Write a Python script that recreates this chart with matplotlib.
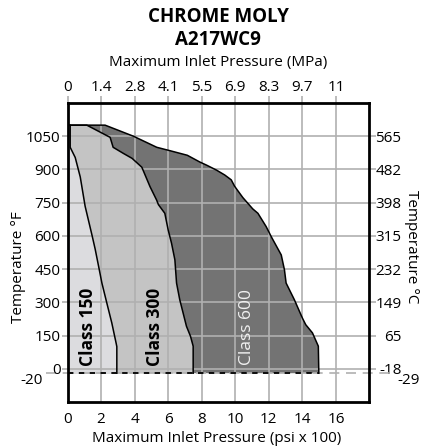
import matplotlib
matplotlib.use("Agg")
import matplotlib.pyplot as plt
import matplotlib.transforms as mtransforms

plt.rcParams['font.family'] = ['Open Sans', 'DejaVu Sans']

# boundaries (psi x 100, deg F)
c150_p = [0.16, 0.16, 0.46, 0.76, 1.05, 1.47, 1.65, 1.9, 2.05, 2.35, 2.64, 2.9, 2.94, 2.94]
c150_t = [1100, 1000, 954, 866, 734, 600, 540, 445, 387, 295, 207, 115, 100, -20]

c300_p = [1.15, 2.54, 2.72, 3.34, 3.85, 4.43, 4.92, 5.31, 5.42, 5.8, 6.0, 6.2, 6.4, 6.5,
          6.69, 6.89, 7.09, 7.33, 7.49, 7.49]
c300_t = [1100, 1045, 1000, 972, 950, 910, 822, 762, 741, 702, 627, 567, 492, 387,
          312, 252, 192, 147, 102, -20]

c600_p = [2.24, 3.93, 5.32, 6.14, 7.14, 7.9, 8.3, 8.88, 9.37, 9.76, 9.96, 10.45, 11.04,
          11.35, 11.84, 12.14, 12.74, 12.93, 13.03, 13.52, 14.0, 14.2, 14.6, 14.95, 14.98]
c600_t = [1100, 1050, 1000, 984, 964, 933, 919, 897, 875, 853, 824, 773, 722,
          702, 642, 597, 514, 447, 387, 312, 229, 199, 162, 102, -20]

psi_ticks = [0, 2, 4, 6, 8, 10, 12, 14, 16]
mpa_labels = ['0', '1.4', '2.8', '4.1', '5.5', '6.9', '8.3', '9.7', '11']
degf_ticks = [0, 150, 300, 450, 600, 750, 900, 1050]
degc_labels = ['-18', '65', '149', '232', '315', '398', '482', '565']

classes = ['Class 150', 'Class 300', 'Class 600']
label_p = [1.23, 5.2, 10.7]
label_t = 190

t_min = -20
t_top = 1100

fs = 11

fig = plt.figure(figsize=(4.22, 4.48), dpi=100)
ax = fig.add_axes([67.5 / 422, 1 - 402 / 448, 302 / 422, 299 / 448])
ax.set_xlim(0, 18)
ax.set_ylim(-150, 1200)

cols = ['#dcdcdf', '#c4c4c4', '#737373']
bounds = [(c150_p, c150_t), (c300_p, c300_t), (c600_p, c600_t)]
for i in [2, 1, 0]:
    p, t = bounds[i]
    xs = [0, 0] + p + [0]
    ys = [t_min, t_top] + t + [t_min]
    ax.fill(xs, ys, color=cols[i], lw=0, zorder=1)
    ax.plot([0] + p, [t_top] + t, color='black', lw=1.1, zorder=4,
            solid_joinstyle='round')

ax.set_xticks(psi_ticks)
ax.set_yticks(degf_ticks)
ax.grid(True, color='#b0b0b0', lw=1.2, zorder=3)
ax.set_axisbelow(False)
for gl in ax.get_xgridlines() + ax.get_ygridlines():
    gl.set_zorder(3)

# -20 line
trans = mtransforms.blended_transform_factory(ax.transAxes, ax.transData)
ax.plot([-0.071, 1.084], [t_min, t_min], color='#b0b0b0', lw=1.2,
        dashes=(6, 4), transform=trans, clip_on=False, zorder=2)
ax.plot([0, c600_p[-1]], [t_min, t_min], color='black', lw=1.3,
        dashes=(3, 3), zorder=5)

for i, name in enumerate(classes):
    ax.text(label_p[i], label_t, name, rotation=90, ha='center', va='center',
            fontsize=12.5, fontweight='bold' if i < 2 else 'normal',
            color='black' if i < 2 else '#f0f0f0', zorder=6)

for s in ax.spines.values():
    s.set_linewidth(2)
    s.set_color('black')
    s.set_zorder(7)

ax.tick_params(axis='x', length=0, pad=7, labelsize=fs)
ax.tick_params(axis='y', length=4, pad=1, color='#b0b0b0', width=1.2, labelsize=fs)

# top axis in MPa
top = ax.secondary_xaxis('top')
top.set_xticks(psi_ticks, labels=mpa_labels)
top.tick_params(length=5, pad=1, color='#b0b0b0', width=1.2, labelsize=fs)
top.spines['top'].set_visible(False)

# right axis in deg C
right = ax.secondary_yaxis('right')
right.set_yticks(degf_ticks, labels=degc_labels)
right.tick_params(length=4, pad=19, color='#b0b0b0', width=1.2, labelsize=fs)
for lab in right.get_yticklabels():
    lab.set_ha('right')
right.spines['right'].set_visible(False)

ax.text(-0.081, t_min, '-20', transform=trans, ha='right', va='top', fontsize=fs)
ax.text(1.091, t_min, '-29', transform=trans, ha='left', va='top', fontsize=fs)

fig.text(218 / 422, 1 - 17 / 448, 'CHROME MOLY', ha='center', va='center',
         fontsize=13.5, fontweight='bold')
fig.text(218 / 422, 1 - 40 / 448, 'A217WC9', ha='center', va='center',
         fontsize=13.5, fontweight='bold')
fig.text(218 / 422, 1 - 62 / 448, 'Maximum Inlet Pressure (MPa)', ha='center',
         va='center', fontsize=fs)
fig.text(217 / 422, 1 - 438 / 448, 'Maximum Inlet Pressure (psi x 100)', ha='center',
         va='center', fontsize=fs)
fig.text(19 / 422, 1 - 267 / 448, 'Temperature \u00b0F', rotation=90, ha='center',
         va='center', fontsize=fs)
fig.text(412 / 422, 1 - 247 / 448, 'Temperature \u00b0C', rotation=270, ha='center',
         va='center', fontsize=fs)

fig.savefig('out.png', dpi=100)
